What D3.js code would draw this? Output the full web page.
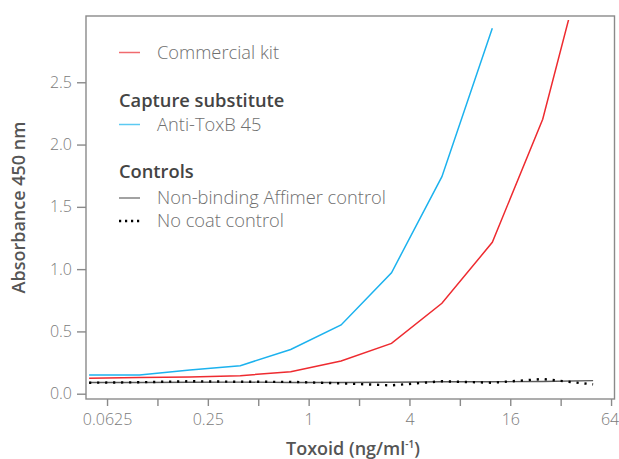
<!DOCTYPE html>
<html>
<head>
<meta charset="utf-8">
<script src="https://cdn.jsdelivr.net/npm/d3@7"></script>
<style>
  html, body { margin: 0; padding: 0; background: #fff; }
  svg { display: block; font-family: "Open Sans", sans-serif; }
</style>
</head>
<body>
<svg id="chart" width="619" height="459"></svg>
<script>
// Toxoid concentrations (ng/ml), two-fold dilution series from 50 ng/ml
const concentrations = [0.048828, 0.097656, 0.195313, 0.390625, 0.78125, 1.5625, 3.125, 6.25, 12.5, 25, 50];

// Absorbance at 450 nm for each series
const commercialKit = [0.125, 0.13, 0.135, 0.145, 0.177, 0.262, 0.404, 0.726, 1.215, 2.203, 3.76];
const antiToxB45 = [0.15, 0.15, 0.19, 0.225, 0.355, 0.552, 0.971, 1.742, 2.933];
const nonBindingControl = [0.09, 0.09, 0.092, 0.093, 0.09, 0.09, 0.092, 0.096, 0.096, 0.098, 0.105];
const noCoatControl = [0.088, 0.092, 0.1, 0.096, 0.095, 0.083, 0.067, 0.1, 0.088, 0.118, 0.075];

// Axis ticks
const xTicks = [0.0625, 0.125, 0.25, 0.5, 1, 2, 4, 8, 16, 32, 64];
const xTickLabels = ["0.0625", "", "0.25", "", "1", "", "4", "", "16", "", "64"];
const yTicks = [0, 0.5, 1.0, 1.5, 2.0, 2.5];
const yMaxShown = 3.0;

const svg = d3.select("#chart");
const plot = { left: 86, right: 614.5, top: 16, bottom: 399 };

const x = d3.scaleLog().base(2)
  .domain([0.0468, 67.1])
  .range([plot.left, plot.right]);
const y = d3.scaleLinear()
  .domain([-0.0425, 3.032])
  .range([plot.bottom, plot.top]);

// Data lines are clipped at the top of the absorbance range
svg.append("defs").append("clipPath").attr("id", "clip")
  .append("rect")
  .attr("x", plot.left)
  .attr("y", y(yMaxShown))
  .attr("width", plot.right - plot.left)
  .attr("height", plot.bottom - y(yMaxShown));

const line = d3.line().x(d => x(d[0])).y(d => y(d[1]));
const pairs = vals => vals.map((v, i) => [concentrations[i], v]);

const lines = svg.append("g").attr("clip-path", "url(#clip)");
lines.append("path").datum(pairs(nonBindingControl))
  .attr("d", line).attr("fill", "none")
  .attr("stroke", "#5a5a5a").attr("stroke-width", 1.3);
lines.append("path").datum(pairs(noCoatControl))
  .attr("d", line).attr("fill", "none")
  .attr("stroke", "#000").attr("stroke-width", 2.4)
  .attr("stroke-dasharray", "2.2,5.8");
lines.append("path").datum(pairs(commercialKit))
  .attr("d", line).attr("fill", "none")
  .attr("stroke", "#ee2b30").attr("stroke-width", 1.5);
lines.append("path").datum(pairs(antiToxB45))
  .attr("d", line).attr("fill", "none")
  .attr("stroke", "#1cb2ee").attr("stroke-width", 1.5);

// Frame
svg.append("rect")
  .attr("x", plot.left).attr("y", plot.top)
  .attr("width", plot.right - plot.left).attr("height", plot.bottom - plot.top)
  .attr("fill", "none").attr("stroke", "#8a8a8a").attr("stroke-width", 1.4);

// Axes
const xAxis = svg.append("g")
  .attr("transform", `translate(0,${plot.bottom})`)
  .call(d3.axisBottom(x).tickValues(xTicks)
    .tickFormat((d, i) => xTickLabels[i]).tickSize(7).tickPadding(8));
const yAxis = svg.append("g")
  .attr("transform", `translate(${plot.left},0)`)
  .call(d3.axisLeft(y).tickValues(yTicks)
    .tickFormat(d3.format(".1f")).tickSize(9).tickPadding(5));

[xAxis, yAxis].forEach(g => {
  g.select(".domain").remove();
  g.selectAll(".tick line").attr("stroke", "#8a8a8a").attr("stroke-width", 1.4);
  g.selectAll(".tick text")
    .attr("fill", "#7a7a7a")
    .style("font-family", "'Open Sans', sans-serif")
    .style("font-weight", 300)
    .style("font-size", "16px");
});
// keep the last label inside the page edge
xAxis.selectAll(".tick text").filter(d => d === 64).attr("dx", -1.5);

// Axis titles
svg.append("text")
  .attr("transform", `translate(25,${(plot.top + plot.bottom) / 2 + 0}) rotate(-90)`)
  .attr("text-anchor", "middle")
  .attr("fill", "#555")
  .style("font-weight", 600).style("font-size", "18px")
  .text("Absorbance 450 nm");

const xTitle = svg.append("text")
  .attr("x", 353).attr("y", 455)
  .attr("text-anchor", "middle")
  .attr("fill", "#555")
  .style("font-weight", 600).style("font-size", "18px");
xTitle.append("tspan").text("Toxoid (ng/ml");
xTitle.append("tspan").attr("dy", -7).style("font-size", "10px").text("-1");
xTitle.append("tspan").attr("dy", 7).text(")");

// Legend
const legend = svg.append("g");
const legendLabel = (yPos, label) => legend.append("text")
  .attr("x", 157).attr("y", yPos)
  .attr("fill", "#6f6f6f")
  .style("font-weight", 300).style("font-size", "18.3px")
  .text(label);
const legendTitle = (yPos, label) => legend.append("text")
  .attr("x", 119).attr("y", yPos)
  .attr("fill", "#444")
  .style("font-weight", 600).style("font-size", "18.3px")
  .text(label);
const legendKey = (yPos, color, width, dash) => legend.append("line")
  .attr("x1", 119).attr("x2", 140).attr("y1", yPos).attr("y2", yPos)
  .attr("stroke", color).attr("stroke-width", width)
  .attr("stroke-dasharray", dash || null);

legendKey(52.5, "#f06a6e", 1.5);
legendLabel(59, "Commercial kit");
legendTitle(107, "Capture substitute");
legendKey(124.5, "#5ccaf2", 1.5);
legendLabel(131, "Anti-ToxB 45");
legendTitle(178, "Controls");
legendKey(198, "#7a7a7a", 1.4);
legendLabel(204, "Non-binding Affimer control");
legendKey(221, "#000", 2.4, "2.2,3.8");
legendLabel(227, "No coat control");
</script>
</body>
</html>
